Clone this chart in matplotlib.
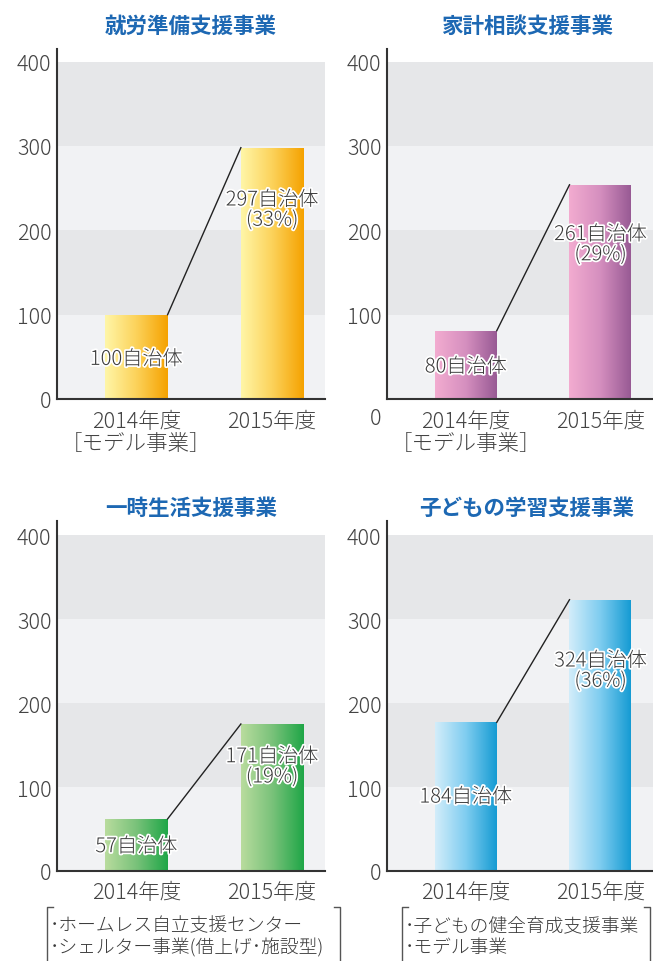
import matplotlib.pyplot as plt
import numpy as np
from matplotlib.colors import LinearSegmentedColormap
import matplotlib.patheffects as pe

plt.rcParams['font.family'] = ['Noto Sans CJK JP', 'DejaVu Sans']

# données
titres = ['就労準備支援事業', '家計相談支援事業', '一時生活支援事業', '子どもの学習支援事業']
hauteurs = [[100, 298], [81, 254], [62, 175], [177, 323]]
etiquettes = [['100自治体', '297自治体\n(33%)'],
              ['80自治体', '261自治体\n(29%)'],
              ['57自治体', '171自治体\n(19%)'],
              ['184自治体', '324自治体\n(36%)']]
categories = [['2014年度\n［モデル事業］', '2015年度'],
              ['2014年度\n［モデル事業］', '2015年度'],
              ['2014年度', '2015年度'],
              ['2014年度', '2015年度']]
notes = [None, None,
         ['･ホームレス自立支援センター', '･シェルター事業(借上げ･施設型)'],
         ['･子どもの健全育成支援事業', '･モデル事業']]

# mise en page (pixels) et styles
etiq_y = [[47, 224], [38, 183], [29, 124], [88, 238]]
degrades = [['#fff6a8', '#fcd25a', '#f5a200'],
            ['#f3acd0', '#d58fbf', '#985a94'],
            ['#b9dc9e', '#79c27a', '#1fa647'],
            ['#d3edfa', '#7fcdf0', '#159bd3']]
W, H = 653, 962
cadres = [(57, 400, 268, 350), (387, 400, 266, 350),
          (57, 872, 268, 350), (387, 872, 266, 350)]
titre_pos = [(191, 26), (527, 26), (191, 508), (527, 508)]
gris = '#444444'

fig = plt.figure(figsize=(W / 100, H / 100), dpi=100)

for i in range(4):
    x0, y0, w, h = cadres[i]
    ax = fig.add_axes([x0 / W, 1 - y0 / H, w / W, h / H])
    ymax = 415 if i < 2 else 416.7
    # bandes grises
    for k, c in enumerate(['#f1f2f4', '#e6e7e9', '#f1f2f4', '#e6e7e9']):
        ax.axhspan(k * 100, (k + 1) * 100, color=c, lw=0, zorder=0)
    larg = 0.46
    xs = [0, 1]
    cmap = LinearSegmentedColormap.from_list('g%d' % i, degrades[i])
    grad = np.linspace(0, 1, 256).reshape(1, -1)
    barres = ax.bar(xs, hauteurs[i], width=larg, color='none', zorder=2)
    for b in barres:
        im = ax.imshow(grad, cmap=cmap, aspect='auto', zorder=2,
                       extent=[b.get_x(), b.get_x() + b.get_width(), 0, b.get_height()])
        im.set_clip_path(b)
    ax.plot([xs[0] + larg / 2, xs[1] - larg / 2], hauteurs[i],
            color='#222222', lw=1, zorder=3)
    for j in range(2):
        ax.text(xs[j], etiq_y[i][j], etiquettes[i][j], ha='center', va='center',
                fontsize=14.5, color='#3a3a3a', linespacing=0.95, zorder=4,
                fontweight='light',
                path_effects=[pe.withStroke(linewidth=2.5, foreground='white')])
    ax.set_xlim(-0.585, 1.39)
    ax.set_ylim(0, ymax)
    ax.set_xticks(xs)
    ax.set_xticklabels(categories[i], fontsize=15.5, color=gris, linespacing=1.0,
                       fontweight='light')
    if i == 1:
        ax.set_yticks([100, 200, 300, 400])
        ax.annotate('0', xy=(0, 0), xycoords='axes fraction', xytext=(-4, -14),
                    textcoords='offset points', ha='right', va='center',
                    fontsize=15.5, color=gris, fontweight='light')
    else:
        ax.set_yticks([0, 100, 200, 300, 400])
    for t in ax.get_yticklabels():
        t.set_fontweight('light')
    ax.tick_params(axis='both', length=0, labelsize=15.5, labelcolor=gris)
    ax.tick_params(axis='y', pad=4)
    ax.tick_params(axis='x', pad=8 if i < 2 else 7)
    for s in ['top', 'right']:
        ax.spines[s].set_visible(False)
    for s in ['left', 'bottom']:
        ax.spines[s].set_color('#333333')
        ax.spines[s].set_linewidth(1.5)
    ax.set_facecolor('white')

    tx, ty = titre_pos[i]
    fig.text(tx / W, 1 - ty / H, titres[i], ha='center', va='center',
             fontsize=15.5, fontweight='bold', color='#1d68b3')

# encadrés des notes
boites = [(47, 340), (402, 650)]
for i, (xa, xb) in zip([2, 3], boites):
    yt = 1 - 908 / H
    fig.add_artist(plt.Line2D([xa / W, xa / W, (xa + 6) / W], [0, yt, yt],
                              color='#555555', lw=1))
    fig.add_artist(plt.Line2D([(xb - 6) / W, xb / W, xb / W], [yt, yt, 0],
                              color='#555555', lw=1))
    for k, ligne in enumerate(notes[i]):
        fig.text((xa + 3) / W, 1 - (926 + k * 22) / H, ligne, ha='left', va='center',
                 fontsize=13.5, color='#3a3a3a', fontweight='light')

fig.savefig('out.png', dpi=100)
